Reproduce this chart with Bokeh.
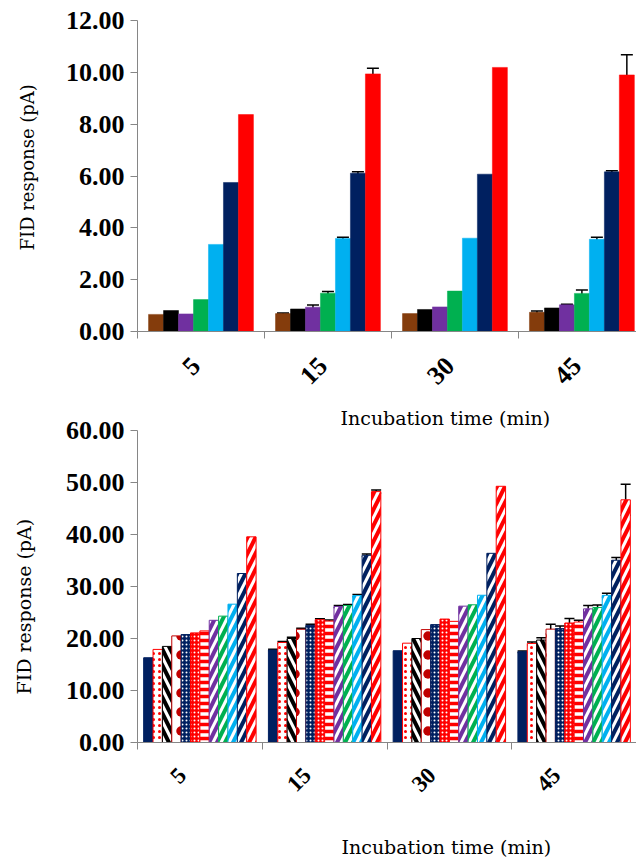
from math import pi
from bokeh.plotting import figure
from bokeh.models import (Range1d, FixedTicker, NumeralTickFormatter, ColumnDataSource,
                          Whisker, TeeHead, Title)
from bokeh.layouts import column
from bokeh.embed import file_html
from bokeh.resources import INLINE

# ---------------- data ----------------
times = ["5", "15", "30", "45"]

# top chart (7 series)
top_colors = ["#843C0C", "#000000", "#7030A0", "#00B050", "#00B0F0", "#002060", "#FF0000"]
top_brown = [0.66, 0.69, 0.69, 0.74]
top_black = [0.81, 0.87, 0.85, 0.91]
top_purple = [0.68, 0.94, 0.95, 1.03]
top_green = [1.23, 1.48, 1.56, 1.47]
top_lblue = [3.36, 3.59, 3.60, 3.56]
top_navy = [5.75, 6.11, 6.07, 6.16]
top_red = [8.37, 9.94, 10.19, 9.90]
top_err_brown = [0, 0.02, 0, 0.05]
top_err_black = [0, 0, 0, 0]
top_err_purple = [0, 0.08, 0, 0.02]
top_err_green = [0, 0.06, 0, 0.13]
top_err_lblue = [0, 0.05, 0, 0.08]
top_err_navy = [0, 0.05, 0, 0.045]
top_err_red = [0, 0.22, 0, 0.78]
top_series = [top_brown, top_black, top_purple, top_green, top_lblue, top_navy, top_red]
top_errs = [top_err_brown, top_err_black, top_err_purple, top_err_green,
            top_err_lblue, top_err_navy, top_err_red]
top_yticks = [0, 2, 4, 6, 8, 10, 12]

# bottom chart (12 series)
bot_s1 = [16.30, 17.78, 17.65, 17.46]
bot_s2 = [17.90, 19.24, 19.10, 19.05]
bot_s3 = [18.48, 20.00, 20.00, 19.70]
bot_s4 = [20.50, 21.78, 21.71, 21.80]
bot_s5 = [20.76, 22.54, 22.67, 21.90]
bot_s6 = [21.08, 23.62, 23.74, 22.98]
bot_s7 = [21.46, 23.37, 23.30, 23.17]
bot_s8 = [23.50, 26.16, 26.22, 25.70]
bot_s9 = [24.30, 26.35, 26.48, 25.97]
bot_s10 = [26.60, 28.25, 28.32, 28.30]
bot_s11 = [32.50, 36.00, 36.38, 35.05]
bot_s12 = [39.55, 48.25, 49.27, 46.67]
bot_e1 = [0, 0.15, 0, 0.15]
bot_e2 = [0, 0.20, 0, 0.30]
bot_e3 = [0, 0.25, 0, 0.45]
bot_e4 = [0, 0.20, 0, 0.92]
bot_e5 = [0, 0.20, 0, 0.50]
bot_e6 = [0, 0.20, 0, 0.86]
bot_e7 = [0, 0.20, 0, 0.35]
bot_e8 = [0, 0.20, 0, 0.63]
bot_e9 = [0, 0.20, 0, 0.48]
bot_e10 = [0, 0.20, 0, 0.38]
bot_e11 = [0, 0.25, 0, 0.54]
bot_e12 = [0, 0.30, 0, 2.98]
bot_series = [bot_s1, bot_s2, bot_s3, bot_s4, bot_s5, bot_s6, bot_s7, bot_s8,
              bot_s9, bot_s10, bot_s11, bot_s12]
bot_errs = [bot_e1, bot_e2, bot_e3, bot_e4, bot_e5, bot_e6, bot_e7, bot_e8,
            bot_e9, bot_e10, bot_e11, bot_e12]
bot_yticks = [0, 10, 20, 30, 40, 50, 60]

x_title = "Incubation time (min)"
y_title = "FID response (pA)"

NAVY = "#002060"
RED = "#FF0000"
bot_styles = [
    dict(fill_color=NAVY, line_color=NAVY),
    dict(fill_color="white", line_color=RED, hatch_pattern=".", hatch_color=RED, hatch_scale=6, hatch_weight=1.5),
    dict(fill_color="white", line_color="black", hatch_pattern="\\", hatch_color="black", hatch_scale=16, hatch_weight=4),
    dict(fill_color="white", line_color="#C00000", hatch_pattern=".", hatch_color="#C00000", hatch_scale=19, hatch_weight=8),
    dict(fill_color=NAVY, line_color=NAVY, hatch_pattern=".", hatch_color="white", hatch_scale=4, hatch_weight=1.5),
    dict(fill_color=RED, line_color=RED, hatch_pattern=".", hatch_color="white", hatch_scale=4, hatch_weight=1.5),
    dict(fill_color="white", line_color=RED, hatch_pattern="-", hatch_color=RED, hatch_scale=7, hatch_weight=3.5),
    dict(fill_color="white", line_color="#7030A0", hatch_pattern="/", hatch_color="#7030A0", hatch_scale=16, hatch_weight=4),
    dict(fill_color="white", line_color="#00B050", hatch_pattern="/", hatch_color="#00B050", hatch_scale=16, hatch_weight=4),
    dict(fill_color="white", line_color="#00B0F0", hatch_pattern="/", hatch_color="#00B0F0", hatch_scale=16, hatch_weight=4),
    dict(fill_color="white", line_color=NAVY, hatch_pattern="/", hatch_color=NAVY, hatch_scale=16, hatch_weight=4),
    dict(fill_color="white", line_color=RED, hatch_pattern="/", hatch_color=RED, hatch_scale=16, hatch_weight=4),
]

SERIF_BOLD = "Liberation Serif"
SERIF_REGULAR = "DejaVu Serif"
AXIS_GRAY = "#868686"
SPACER = "\u00a0"


def base_fig(width, height, left, top, bottom, ymax, yticks, xend, cat_size, cat_standoff,
             cat_shift, xspace, yspace):
    p = figure(width=width, height=height, x_range=Range1d(0, xend), y_range=Range1d(0, ymax),
               output_backend="svg", toolbar_location=None,
               min_border_left=left, min_border_right=0, min_border_top=top, min_border_bottom=bottom)
    p.outline_line_color = None
    p.xgrid.visible = False
    p.ygrid.visible = False
    p.background_fill_color = "white"
    p.border_fill_color = "white"
    ya = p.yaxis[0]
    ya.axis_line_color = AXIS_GRAY
    ya.major_tick_line_color = AXIS_GRAY
    ya.minor_tick_line_color = None
    ya.major_tick_in = 0
    ya.major_tick_out = 7
    ya.ticker = FixedTicker(ticks=yticks)
    ya.formatter = NumeralTickFormatter(format="0.00")
    ya.major_label_text_font = SERIF_BOLD
    ya.major_label_text_font_style = "bold"
    ya.major_label_text_font_size = "26px"
    ya.major_label_text_color = "black"
    ya.major_label_standoff = 6
    ya.axis_label = SPACER
    ya.axis_label_text_font_size = "1px"
    ya.axis_label_standoff = yspace
    xa = p.xaxis[0]
    xa.axis_line_color = AXIS_GRAY
    label_pos = [i + 0.5 + cat_shift for i in range(len(times))]
    xa.ticker = FixedTicker(ticks=label_pos, minor_ticks=list(range(len(times) + 1)))
    xa.major_label_overrides = {x: t for x, t in zip(label_pos, times)}
    xa.major_tick_in = 0
    xa.major_tick_out = 0
    xa.major_tick_line_color = None
    xa.minor_tick_in = 0
    xa.minor_tick_out = 7
    xa.minor_tick_line_color = AXIS_GRAY
    xa.major_label_orientation = pi / 4
    xa.major_label_text_font = SERIF_BOLD
    xa.major_label_text_font_style = "bold"
    xa.major_label_text_font_size = cat_size
    xa.major_label_text_color = "black"
    xa.major_label_standoff = cat_standoff
    if xspace is not None:
        xa.axis_label = SPACER
        xa.axis_label_text_font_size = "1px"
        xa.axis_label_standoff = xspace
    return p


def add_whiskers(p, xs, tops, errs, head):
    bx, up, lo = [], [], []
    for x, t, e in zip(xs, tops, errs):
        if e > 0:
            bx.append(x)
            up.append(t + e)
            lo.append(t - e)
    if not bx:
        return
    src = ColumnDataSource(dict(x=bx, upper=up, lower=lo))
    p.add_layout(Whisker(source=src, base="x", upper="upper", lower="lower", dimension="height",
                         line_color="black", line_width=1.5,
                         upper_head=TeeHead(size=head, line_color="black", line_width=1.5),
                         lower_head=TeeHead(size=head, line_color="black", line_width=1.5)))


def make_title(text, offset, size, valign):
    t = Title(text=text, align="left", offset=offset, standoff=0, vertical_align=valign,
              text_font_size=size, text_color="black")
    t.text_font = SERIF_REGULAR
    t.text_font_style = "normal"
    return t


# ---------------- top chart ----------------
H1 = 398
p1 = base_fig(636, H1, 137, 20, H1 - 20 - 311, 12, top_yticks, 3.93, "26px", 23, -0.04, None, 21)
n1 = len(top_series)
bw1 = 0.118
off1 = (1 - n1 * bw1) / 2
for k, (vals, errs) in enumerate(zip(top_series, top_errs)):
    xs = [i + off1 + (k + 0.5) * bw1 for i in range(len(times))]
    p1.vbar(x=xs, top=vals, width=bw1, bottom=0, fill_color=top_colors[k], line_color=top_colors[k],
            line_width=0.5)
    add_whiskers(p1, xs, vals, errs, 12)
p1.add_layout(make_title(y_title, 81, "18px", "bottom"), "left")

# ---------------- bottom chart ----------------
H2 = 859 - H1
TOP2 = 32
p2 = base_fig(636, H2, 129, TOP2, H2 - TOP2 - 315, 60, bot_yticks, 4.0, "23px", 22, -0.14, 30, 24)
n2 = len(bot_series)
bw2 = 0.0751
off2 = (1 - n2 * bw2) / 2
for k, (vals, errs) in enumerate(zip(bot_series, bot_errs)):
    xs = [i + off2 + (k + 0.5) * bw2 for i in range(len(times))]
    p2.vbar(x=xs, top=vals, width=bw2, bottom=0, line_width=1, **bot_styles[k])
    add_whiskers(p2, xs, vals, errs, 10)
# x title of the upper chart sits just above the lower chart's frame
p2.add_layout(make_title(x_title, 203, "19px", "top"), "above")
p2.add_layout(make_title(x_title, 204, "19px", "top"), "below")
p2.add_layout(make_title(y_title, 48, "19px", "bottom"), "left")

layout = column(p1, p2)
open("out.html", "w").write(file_html(layout, INLINE))
